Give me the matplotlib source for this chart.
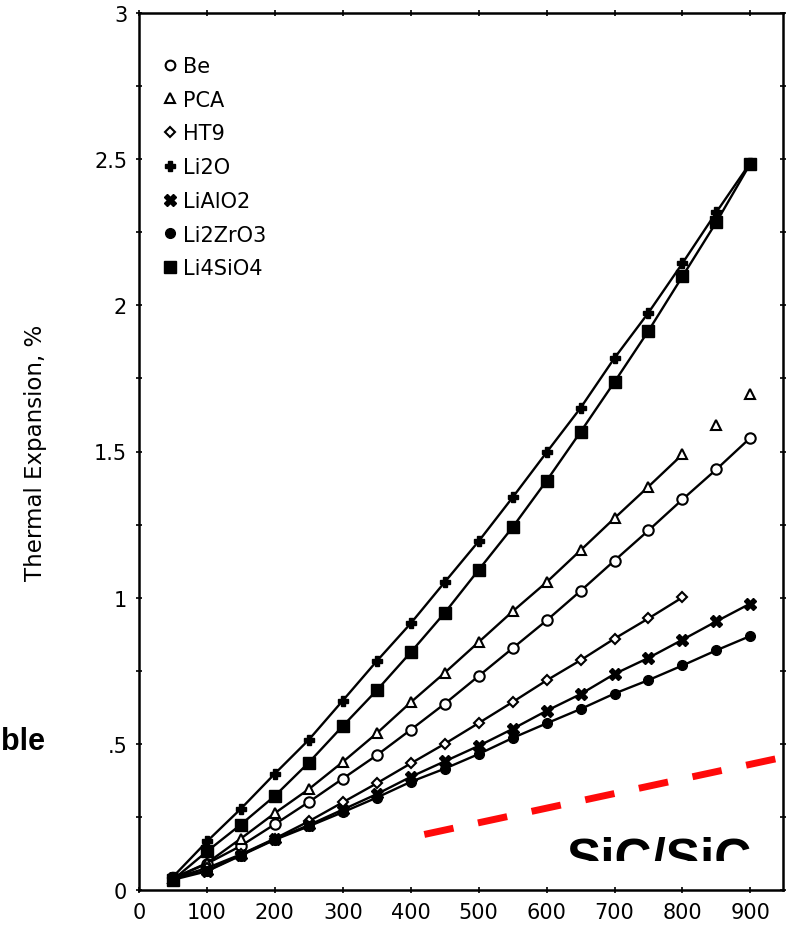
import matplotlib
matplotlib.use("Agg")
import matplotlib.pyplot as plt
from matplotlib.lines import Line2D
from matplotlib.patches import Rectangle

# ── Data ───────────────────────────────────────────────────────────────────────
temp = [50, 100, 150, 200, 250, 300, 350, 400, 450,
        500, 550, 600, 650, 700, 750, 800, 850, 900]

be = [0.04, 0.09, 0.151, 0.225, 0.301, 0.381, 0.461, 0.548, 0.637,
      0.732, 0.827, 0.922, 1.023, 1.127, 1.230, 1.336, 1.439, 1.547]

pca_temp = temp[:16]
pca = [0.04, 0.092, 0.176, 0.263, 0.345, 0.438, 0.536, 0.642, 0.743,
       0.848, 0.953, 1.053, 1.162, 1.272, 1.380, 1.490]
pca_extra_temp = [850, 900]
pca_extra = [1.591, 1.697]

ht9_temp = temp[:16]
ht9 = [0.04, 0.075, 0.122, 0.176, 0.235, 0.30, 0.365, 0.433, 0.500,
       0.571, 0.643, 0.717, 0.786, 0.860, 0.929, 1.001]

li2o = [0.045, 0.166, 0.278, 0.398, 0.514, 0.648, 0.783, 0.912, 1.053,
        1.193, 1.343, 1.497, 1.649, 1.820, 1.975, 2.144, 2.319, 2.488]

lialo2 = [0.04, 0.066, 0.12, 0.174, 0.222, 0.275, 0.328, 0.387, 0.440,
          0.493, 0.551, 0.613, 0.670, 0.739, 0.794, 0.856, 0.919, 0.980]

li2zro3 = [0.035, 0.064, 0.118, 0.172, 0.218, 0.266, 0.316, 0.370, 0.415,
           0.465, 0.520, 0.570, 0.619, 0.672, 0.718, 0.768, 0.820, 0.869]

li4sio4 = [0.035, 0.132, 0.224, 0.322, 0.436, 0.561, 0.683, 0.813, 0.948,
           1.095, 1.241, 1.400, 1.567, 1.738, 1.913, 2.099, 2.285, 2.485]

# red overlay line (SiC/SiC)
sic_x = [420, 950]
sic_y = [0.19, 0.455]

x_ticks = [0, 100, 200, 300, 400, 500, 600, 700, 800, 900]
y_ticks = [0, 0.5, 1, 1.5, 2, 2.5, 3]
y_ticklabels = ["0", ".5", "1", "1.5", "2", "2.5", "3"]

# ── Figure ─────────────────────────────────────────────────────────────────────
plt.rcParams["font.family"] = ["DejaVu Sans"]
fig = plt.figure(figsize=(7.88, 9.29), dpi=100)
ax = fig.add_axes([139 / 788, 38 / 929, 644 / 788, 877 / 929])

line_kw = dict(color="black", linewidth=1.7)
open_kw = dict(markerfacecolor="white", markeredgecolor="black", markeredgewidth=1.5)
ax.plot(temp, be, marker="o", markersize=7.5, **open_kw, **line_kw)
ax.plot(pca_temp, pca, marker="^", markersize=7.5, **open_kw, **line_kw)
ax.plot(pca_extra_temp, pca_extra, linestyle="none", marker="^", markersize=7.5,
        **open_kw)
ax.plot(ht9_temp, ht9, marker="D", markersize=5, **open_kw, **line_kw)
ax.plot(temp, li2o, marker="P", markersize=7, markerfacecolor="black",
        markeredgecolor="black", **line_kw)
ax.plot(temp, lialo2, marker="X", markersize=8, markerfacecolor="black",
        markeredgecolor="black", **line_kw)
ax.plot(temp, li2zro3, marker="o", markersize=7, markerfacecolor="black",
        markeredgecolor="black", **line_kw)
ax.plot(temp, li4sio4, marker="s", markersize=8, markerfacecolor="black",
        markeredgecolor="black", **line_kw)

ax.plot(sic_x, sic_y, color="#ff0a0a", linewidth=5, dashes=(4.3, 3.6),
        dash_capstyle="butt", zorder=5)

ax.set_xlim(0, 948)
ax.set_ylim(0, 3)
ax.set_xticks(x_ticks)
ax.set_yticks(y_ticks)
ax.set_yticklabels(y_ticklabels)
ax.set_yticks([0.25, 0.75, 1.25, 1.75, 2.25, 2.75], minor=True)
ax.tick_params(which="both", direction="inout", top=True, right=True,
               labelsize=15, width=1.2)
ax.tick_params(which="major", length=5, pad=6)
ax.tick_params(which="minor", length=4)
for s in ax.spines.values():
    s.set_linewidth(1.8)

ax.set_ylabel("Thermal Expansion, %", fontsize=16.5)
ax.yaxis.set_label_coords(-0.143, 0.5)

# legend (markers only)
handles = [
    Line2D([], [], linestyle="none", marker="o", markersize=7, **open_kw),
    Line2D([], [], linestyle="none", marker="^", markersize=7, **open_kw),
    Line2D([], [], linestyle="none", marker="D", markersize=5, **open_kw),
    Line2D([], [], linestyle="none", marker="P", markersize=7, color="black"),
    Line2D([], [], linestyle="none", marker="X", markersize=8, color="black"),
    Line2D([], [], linestyle="none", marker="o", markersize=7, color="black"),
    Line2D([], [], linestyle="none", marker="s", markersize=8, color="black"),
]
labels = ["Be", "PCA", "HT9", "Li2O", "LiAlO2", "Li2ZrO3", "Li4SiO4"]
ax.legend(handles, labels, loc="upper left", bbox_to_anchor=(0.039, 0.951),
          frameon=False, fontsize=15, handlelength=0.6, handletextpad=0.3,
          labelspacing=0.66, borderaxespad=0, borderpad=0)

# overlay texts from the slide
fig.text(1 / 788, (929 - 750) / 929, "ble", ha="left", va="baseline",
         fontsize=22, fontweight="bold", family="Liberation Sans")
fig.text(567 / 788, (929 - 875) / 929, "SiC/SiC", ha="left", va="baseline",
         fontsize=37, fontweight="bold", family="Liberation Sans", zorder=5)
fig.add_artist(Rectangle((560 / 788, 44 / 929), 200 / 788, 23 / 929,
                         transform=fig.transFigure, facecolor="white",
                         edgecolor="none", zorder=10))

fig.savefig("out.png", dpi=100)
